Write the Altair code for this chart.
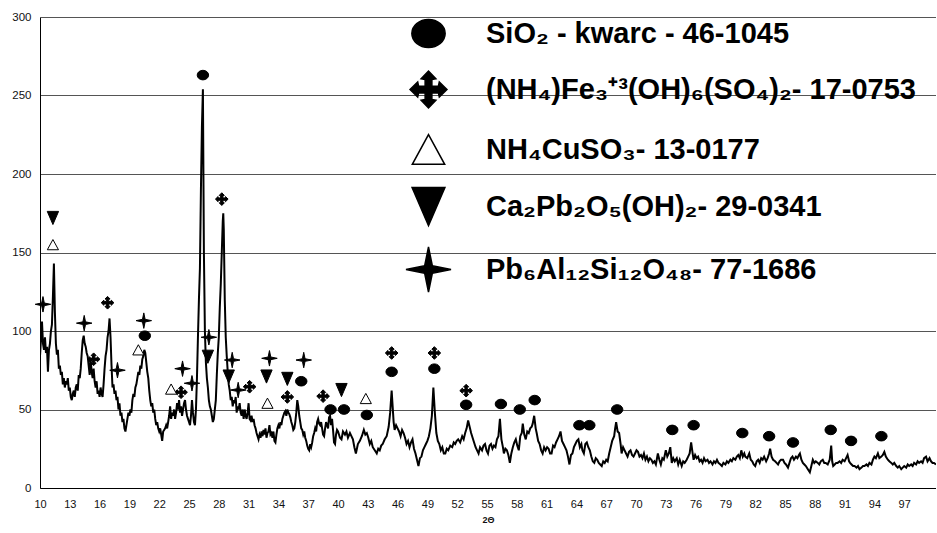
import altair as alt
import pandas as pd

# ---- diffraction scan: (2-theta, counts) ----
scan_10_20 = [
    (10.0, 84), (10.1, 95), (10.2, 106), (10.3, 92), (10.4, 88), (10.5, 96), (10.6, 86), (10.7, 90),
    (10.8, 74), (10.9, 88), (11.0, 92), (11.1, 100), (11.2, 104), (11.3, 122), (11.4, 143), (11.5, 112),
    (11.6, 92), (11.7, 85), (11.8, 88), (11.9, 76), (12.0, 78), (12.1, 72), (12.2, 74), (12.3, 66),
    (12.4, 70), (12.5, 64), (12.6, 68), (12.7, 66), (12.8, 70), (12.9, 62), (13.0, 64), (13.1, 58),
    (13.2, 56), (13.3, 60), (13.4, 62), (13.5, 58), (13.6, 64), (13.7, 66), (13.8, 62), (13.9, 72),
    (14.0, 70), (14.1, 76), (14.2, 86), (14.3, 94), (14.4, 97), (14.5, 92), (14.6, 90), (14.7, 86),
    (14.8, 84), (14.9, 78), (15.0, 72), (15.1, 82), (15.2, 74), (15.3, 70), (15.4, 76), (15.5, 68),
    (15.6, 64), (15.7, 68), (15.8, 60), (15.9, 62), (16.0, 58), (16.1, 64), (16.2, 60), (16.3, 58),
    (16.4, 66), (16.5, 76), (16.6, 84), (16.7, 88), (16.8, 96), (16.9, 100), (17.0, 108), (17.1, 96),
    (17.2, 78), (17.3, 64), (17.4, 66), (17.5, 60), (17.6, 62), (17.7, 56), (17.8, 58), (17.9, 50),
    (18.0, 54), (18.1, 46), (18.2, 48), (18.3, 42), (18.4, 44), (18.5, 38), (18.6, 36), (18.7, 40),
    (18.8, 44), (18.9, 48), (19.0, 46), (19.1, 50), (19.2, 48), (19.3, 56), (19.4, 60), (19.5, 58),
    (19.6, 64), (19.7, 66), (19.8, 70), (19.9, 74),
]
scan_20_30 = [
    (20.0, 72), (20.1, 78), (20.2, 76), (20.3, 82), (20.4, 84), (20.5, 88), (20.6, 86), (20.7, 80),
    (20.8, 74), (20.9, 70), (21.0, 62), (21.1, 56), (21.2, 52), (21.3, 54), (21.4, 48), (21.5, 50),
    (21.6, 44), (21.7, 40), (21.8, 42), (21.9, 38), (22.0, 36), (22.1, 38), (22.2, 34), (22.3, 30),
    (22.4, 36), (22.5, 37), (22.6, 38), (22.7, 40), (22.8, 38), (22.9, 42), (23.0, 46), (23.1, 52),
    (23.2, 44), (23.3, 48), (23.4, 46), (23.5, 50), (23.6, 44), (23.7, 48), (23.8, 54), (23.9, 50),
    (24.0, 56), (24.1, 48), (24.2, 52), (24.3, 46), (24.4, 50), (24.5, 54), (24.6, 56), (24.7, 50),
    (24.8, 46), (24.9, 44), (25.0, 42), (25.1, 40), (25.2, 46), (25.3, 56), (25.4, 48), (25.5, 42),
    (25.6, 40), (25.7, 50), (25.8, 70), (25.9, 96), (26.0, 120), (26.1, 140), (26.2, 190), (26.3, 230),
    (26.4, 254), (26.5, 150), (26.6, 100), (26.7, 80), (26.8, 70), (26.9, 64), (27.0, 56), (27.1, 52),
    (27.2, 50), (27.3, 46), (27.4, 42), (27.5, 44), (27.6, 50), (27.7, 56), (27.8, 72), (27.9, 86),
    (28.0, 96), (28.1, 115), (28.2, 130), (28.3, 150), (28.4, 170), (28.45, 175), (28.5, 165), (28.6, 120),
    (28.7, 96), (28.8, 84), (28.9, 74), (29.0, 66), (29.1, 62), (29.2, 56), (29.3, 58), (29.4, 52),
    (29.5, 56), (29.6, 54), (29.7, 58), (29.8, 48), (29.9, 52),
]
scan_30_40 = [
    (30.0, 50), (30.1, 54), (30.2, 48), (30.3, 46), (30.4, 50), (30.5, 44), (30.6, 50), (30.7, 46),
    (30.8, 44), (30.9, 48), (31.0, 54), (31.1, 44), (31.2, 43), (31.3, 46), (31.4, 42), (31.5, 44),
    (31.6, 40), (31.7, 38), (31.8, 35), (31.9, 33), (32.0, 31), (32.1, 34), (32.2, 32), (32.3, 36),
    (32.4, 33), (32.5, 37), (32.6, 34), (32.7, 38), (32.8, 32), (32.9, 35), (33.0, 36), (33.1, 40),
    (33.2, 34), (33.3, 35), (33.4, 32), (33.5, 36), (33.6, 30), (33.7, 29), (33.8, 34), (33.9, 38),
    (34.0, 40), (34.1, 38), (34.2, 42), (34.3, 40), (34.4, 44), (34.5, 46), (34.6, 48), (34.7, 49),
    (34.8, 46), (34.9, 50), (35.0, 48), (35.1, 47), (35.2, 45), (35.3, 42), (35.4, 40), (35.5, 37),
    (35.6, 38), (35.7, 42), (35.8, 48), (35.9, 56), (36.0, 52), (36.1, 46), (36.2, 42), (36.3, 38),
    (36.4, 37), (36.5, 34), (36.6, 36), (36.7, 32), (36.8, 30), (36.9, 27), (37.0, 25), (37.1, 24),
    (37.2, 28), (37.3, 26), (37.4, 29), (37.5, 33), (37.6, 35), (37.7, 38), (37.8, 36), (37.9, 42),
    (38.0, 44), (38.1, 41), (38.2, 40), (38.3, 42), (38.4, 38), (38.5, 34), (38.6, 33), (38.7, 38),
    (38.8, 42), (38.9, 40), (39.0, 38), (39.1, 45), (39.2, 46), (39.3, 40), (39.4, 44), (39.5, 37),
    (39.6, 29), (39.7, 28), (39.8, 34), (39.9, 37),
]
scan_40_55 = [
    (40.0, 36), (40.2, 32), (40.35, 31), (40.5, 36), (40.7, 34), (40.85, 36), (41.0, 32), (41.2, 35),
    (41.35, 33), (41.5, 31), (41.65, 26), (41.8, 22), (42.0, 28), (42.2, 30), (42.4, 33), (42.6, 37),
    (42.75, 34), (42.9, 35), (43.05, 32), (43.2, 28), (43.35, 30), (43.5, 26), (43.7, 24), (43.9, 22),
    (44.05, 25), (44.2, 24), (44.35, 27), (44.5, 28), (44.7, 31), (44.9, 33), (45.1, 39), (45.25, 48),
    (45.4, 62), (45.5, 52), (45.6, 42), (45.7, 37), (45.85, 40), (46.0, 38), (46.15, 36), (46.3, 33),
    (46.45, 37), (46.6, 35), (46.75, 32), (46.9, 28), (47.05, 30), (47.2, 26), (47.35, 29), (47.5, 31),
    (47.65, 25), (47.8, 22), (47.95, 18), (48.1, 14), (48.25, 19), (48.4, 20), (48.55, 24), (48.7, 26),
    (48.85, 28), (49.0, 30), (49.15, 33), (49.3, 38), (49.45, 46), (49.6, 64), (49.75, 48), (49.9, 35),
    (50.05, 30), (50.2, 28), (50.35, 24), (50.5, 26), (50.65, 22), (50.8, 22), (50.95, 25), (51.1, 24),
    (51.3, 27), (51.5, 26), (51.65, 29), (51.8, 28), (51.95, 30), (52.1, 31), (52.3, 29), (52.5, 33),
    (52.65, 31), (52.8, 35), (52.95, 38), (53.1, 43), (53.25, 39), (53.4, 35), (53.55, 32), (53.7, 29),
    (53.85, 26), (54.0, 24), (54.15, 22), (54.3, 26), (54.5, 24), (54.65, 27), (54.8, 28), (54.95, 24),
]
scan_55_70 = [
    (55.1, 22), (55.25, 27), (55.4, 28), (55.55, 25), (55.7, 27), (55.85, 26), (56.0, 31), (56.15, 33),
    (56.3, 44), (56.45, 31), (56.6, 26), (56.7, 22), (56.85, 25), (57.0, 24), (57.15, 21), (57.3, 16),
    (57.45, 22), (57.6, 26), (57.75, 29), (57.9, 31), (58.05, 27), (58.2, 24), (58.35, 33), (58.5, 35),
    (58.6, 41), (58.75, 34), (58.9, 31), (59.05, 36), (59.2, 35), (59.35, 38), (59.5, 39), (59.6, 41),
    (59.75, 46), (59.9, 38), (60.0, 35), (60.15, 30), (60.3, 28), (60.45, 24), (60.6, 22), (60.75, 26),
    (60.9, 24), (61.05, 26), (61.2, 25), (61.35, 22), (61.5, 22), (61.65, 27), (61.8, 26), (61.95, 29),
    (62.1, 31), (62.25, 33), (62.4, 36), (62.55, 30), (62.7, 28), (62.85, 26), (63.0, 24), (63.15, 20),
    (63.3, 15), (63.45, 21), (63.6, 22), (63.75, 26), (63.9, 28), (64.05, 30), (64.2, 31), (64.35, 26),
    (64.5, 28), (64.6, 24), (64.75, 22), (64.9, 28), (65.05, 29), (65.2, 26), (65.35, 24), (65.5, 20),
    (65.65, 17), (65.8, 16), (65.95, 19), (66.1, 18), (66.25, 16), (66.4, 15), (66.55, 14), (66.7, 17),
    (66.85, 16), (67.0, 18), (67.15, 17), (67.3, 22), (67.45, 26), (67.6, 30), (67.8, 33), (67.9, 38),
    (68.0, 42), (68.15, 36), (68.3, 35), (68.45, 28), (68.55, 22), (68.7, 26), (68.85, 24), (69.0, 22),
    (69.15, 20), (69.3, 23), (69.45, 24), (69.6, 21), (69.75, 20), (69.9, 22),
]
scan_70_85 = [
    (70.05, 24), (70.2, 23), (70.35, 20), (70.5, 21), (70.65, 19), (70.8, 22), (70.95, 18), (71.1, 20),
    (71.25, 17), (71.4, 19), (71.55, 18), (71.7, 16), (71.85, 17), (72.0, 15), (72.2, 22), (72.35, 18),
    (72.5, 15), (72.65, 19), (72.8, 18), (73.0, 24), (73.15, 20), (73.3, 22), (73.45, 26), (73.6, 16),
    (73.75, 19), (73.9, 17), (74.1, 19), (74.25, 15), (74.4, 18), (74.6, 14), (74.75, 17), (74.9, 16),
    (75.1, 18), (75.25, 20), (75.4, 22), (75.55, 29), (75.7, 22), (75.8, 18), (75.95, 21), (76.1, 19),
    (76.25, 20), (76.4, 17), (76.55, 18), (76.7, 16), (76.85, 19), (77.0, 17), (77.2, 18), (77.35, 16),
    (77.5, 17), (77.7, 15), (77.85, 17), (78.0, 16), (78.15, 18), (78.3, 16), (78.5, 15), (78.65, 14),
    (78.8, 16), (79.0, 15), (79.15, 17), (79.3, 16), (79.5, 18), (79.65, 17), (79.8, 19), (80.0, 18),
    (80.15, 20), (80.3, 21), (80.45, 19), (80.6, 24), (80.75, 20), (80.9, 22), (81.0, 20), (81.2, 19),
    (81.4, 22), (81.55, 18), (81.7, 17), (81.85, 15), (82.0, 14), (82.15, 17), (82.3, 18), (82.45, 16),
    (82.6, 19), (82.75, 18), (82.9, 20), (83.1, 17), (83.25, 19), (83.4, 22), (83.5, 25), (83.65, 20),
    (83.8, 18), (84.0, 17), (84.15, 16), (84.3, 15), (84.45, 17), (84.6, 18), (84.8, 18), (84.95, 16),
]
scan_85_100 = [
    (85.1, 15), (85.3, 13), (85.45, 16), (85.6, 19), (85.75, 20), (85.9, 18), (86.1, 20), (86.25, 19),
    (86.4, 21), (86.5, 22), (86.65, 18), (86.8, 16), (86.95, 15), (87.1, 14), (87.3, 12), (87.5, 10),
    (87.65, 14), (87.8, 18), (87.95, 16), (88.1, 17), (88.3, 16), (88.45, 15), (88.6, 17), (88.8, 18),
    (88.95, 16), (89.1, 16), (89.3, 15), (89.5, 18), (89.65, 27), (89.75, 17), (89.85, 14), (90.0, 15),
    (90.15, 16), (90.3, 16), (90.5, 17), (90.65, 16), (90.8, 18), (91.0, 17), (91.15, 19), (91.3, 21),
    (91.45, 17), (91.55, 16), (91.7, 15), (91.85, 14), (92.0, 14), (92.2, 13), (92.35, 14), (92.5, 12),
    (92.7, 13), (92.85, 14), (93.0, 14), (93.2, 15), (93.35, 14), (93.5, 16), (93.7, 15), (93.85, 18),
    (94.0, 20), (94.15, 19), (94.35, 22), (94.5, 19), (94.7, 20), (94.85, 21), (95.0, 23), (95.15, 20),
    (95.35, 18), (95.5, 17), (95.7, 16), (95.85, 15), (96.0, 16), (96.2, 14), (96.35, 13), (96.5, 14),
    (96.7, 12), (96.85, 13), (97.0, 14), (97.2, 13), (97.35, 15), (97.5, 14), (97.7, 15), (97.85, 14),
    (98.0, 16), (98.2, 15), (98.35, 17), (98.5, 16), (98.7, 17), (98.85, 16), (99.0, 19), (99.2, 20),
    (99.35, 17), (99.55, 19), (99.7, 17), (99.85, 16), (100.0, 16), (100.2, 15),
]

# ---- phase markers: (2-theta, height on the count axis) ----
sio2_marks = [(20.55, 97), (26.4, 263), (36.3, 68), (39.25, 50), (40.6, 50), (42.9, 46.5), (45.4, 74),
              (49.7, 76), (52.9, 53), (56.4, 53.5), (58.3, 50), (59.8, 56), (64.3, 40), (65.3, 40),
              (68.1, 50), (73.65, 37), (75.8, 40), (80.7, 35), (83.4, 33), (85.8, 29), (89.6, 37),
              (91.65, 30), (94.7, 33)]
jarosite_marks = [(15.4, 82), (16.8, 118), (24.2, 61), (28.3, 184), (31.1, 64.5), (34.9, 58),
                  (38.5, 58.5), (45.4, 86), (49.7, 86), (52.9, 62)]
cusulfite_marks = [(11.3, 155), (19.9, 88), (23.2, 63), (32.9, 54), (42.8, 57)]
plumbate_marks = [(11.3, 172), (26.9, 83.6), (29.0, 71), (32.8, 71), (34.9, 69.5), (40.35, 62.4)]
pbalsi_marks = [(10.3, 117), (14.45, 105), (17.8, 75), (20.45, 106.6), (24.35, 76), (25.3, 66.7),
                (27.0, 96), (29.35, 81.5), (29.95, 62.4), (33.1, 82.6), (36.55, 81.5)]

phase_names = [
    "SiO₂ - kwarc - 46-1045",
    "(NH₄)Fe₃⁺³(OH)₆(SO₄)₂- 17-0753",
    "NH₄CuSO₃- 13-0177",
    "Ca₂Pb₂O₅(OH)₂- 29-0341",
    "Pb₆Al₁₂Si₁₂O₄₈- 77-1686",
]
phase_fills = ["black", "black", "white", "black", "black"]
phase_strokes = ["black", "black", "black", "black", "black"]

x_ticks = [10, 13, 16, 19, 22, 25, 28, 31, 34, 37, 40, 43, 46, 49, 52, 55, 58, 61, 64, 67, 70,
           73, 76, 79, 82, 85, 88, 91, 94, 97]
y_ticks = [0, 50, 100, 150, 200, 250, 300]

# symbol outlines (unit box)
ellipse_path = "M-0.74,0 A0.74,0.62 0 1,0 0.74,0 A0.74,0.62 0 1,0 -0.74,0 Z"
cross_path = ("M-0.15,-0.15 L-0.15,-0.44 L-0.33,-0.48 L0,-0.82 L0.33,-0.48 L0.15,-0.44 L0.15,-0.15 "
              "L0.44,-0.15 L0.48,-0.33 L0.82,0 L0.48,0.33 L0.44,0.15 L0.15,0.15 "
              "L0.15,0.44 L0.33,0.48 L0,0.82 L-0.33,0.48 L-0.15,0.44 L-0.15,0.15 "
              "L-0.44,0.15 L-0.48,0.33 L-0.82,0 L-0.48,-0.33 L-0.44,-0.15 Z")
tri_up_path = "M0,-0.66 L0.72,0.66 L-0.72,0.66 Z"
tri_down_path = "M-0.73,-0.85 L0.73,-0.85 L0,0.85 Z"
star_path = "M0,-1 L0.17,-0.17 L1,0 L0.17,0.17 L0,1 L-0.17,0.17 L-1,0 L-0.17,-0.17 Z"
phase_shapes = [ellipse_path, cross_path, tri_up_path, tri_down_path, star_path]

# ---- tables ----
profile = pd.DataFrame(scan_10_20 + scan_20_30 + scan_30_40 + scan_40_55 + scan_55_70
                       + scan_70_85 + scan_85_100, columns=["two_theta", "counts"])
rows = []
for name, pts in zip(phase_names, [sio2_marks, jarosite_marks, cusulfite_marks,
                                   plumbate_marks, pbalsi_marks]):
    for t, v in pts:
        rows.append({"two_theta": t, "counts": v, "phase": name})
markers = pd.DataFrame(rows)

FONT = "Liberation Sans"
x_scale = alt.Scale(domain=[10, 100.2], nice=False, zero=False)
y_scale = alt.Scale(domain=[0, 300], nice=False)

x_axis = alt.Axis(values=x_ticks, title="2Θ", grid=False, ticks=False, labelPadding=10,
                  domainColor="black", domainWidth=1, labelFont=FONT, labelFontSize=11,
                  labelColor="#111", titleFont=FONT, titleFontSize=9, titleFontWeight="bold",
                  titleColor="#111", titlePadding=6, labelFlush=False, labelOverlap=False,
                  labelSeparation=0, labelBound=False)
y_axis = alt.Axis(values=y_ticks, title=None, grid=True, gridColor="#555", gridWidth=1,
                  ticks=False, labelPadding=9, domainColor="black", domainWidth=1,
                  labelFont=FONT, labelFontSize=11.5, labelColor="#111", labelFlush=False,
                  labelOverlap=False)

line = alt.Chart(profile).mark_line(color="black", strokeWidth=2, clip=True).encode(
    x=alt.X("two_theta:Q", scale=x_scale, axis=x_axis),
    y=alt.Y("counts:Q", scale=y_scale, axis=y_axis),
)

legend = alt.Legend(orient="none", legendX=365, legendY=-7, padding=0,
                    labelFont=FONT, labelFontSize=29, labelFontWeight="bold", labelColor="black",
                    labelLimit=900, labelOffset=34, symbolSize=2025, symbolStrokeWidth=1.5,
                    symbolOpacity=1, rowPadding=15)

points = alt.Chart(markers).mark_point(size=240, opacity=1, strokeWidth=1).encode(
    x=alt.X("two_theta:Q", scale=x_scale, axis=x_axis),
    y=alt.Y("counts:Q", scale=y_scale, axis=y_axis),
    shape=alt.Shape("phase:N", title=None, scale=alt.Scale(domain=phase_names, range=phase_shapes),
                    legend=legend),
    fill=alt.Fill("phase:N", title=None, scale=alt.Scale(domain=phase_names, range=phase_fills),
                  legend=legend),
    stroke=alt.Stroke("phase:N", title=None, scale=alt.Scale(domain=phase_names, range=phase_strokes),
                      legend=legend),
)

chart = alt.layer(line, points).properties(
    width=896, height=471,
    padding={"left": 40, "top": 17, "right": 0, "bottom": 45},
    autosize="none",
    background="white",
).configure_view(strokeWidth=0).configure_axisX(labelOverlap=False)

chart.save("out.html", embed_options={"renderer": "svg", "actions": False})
